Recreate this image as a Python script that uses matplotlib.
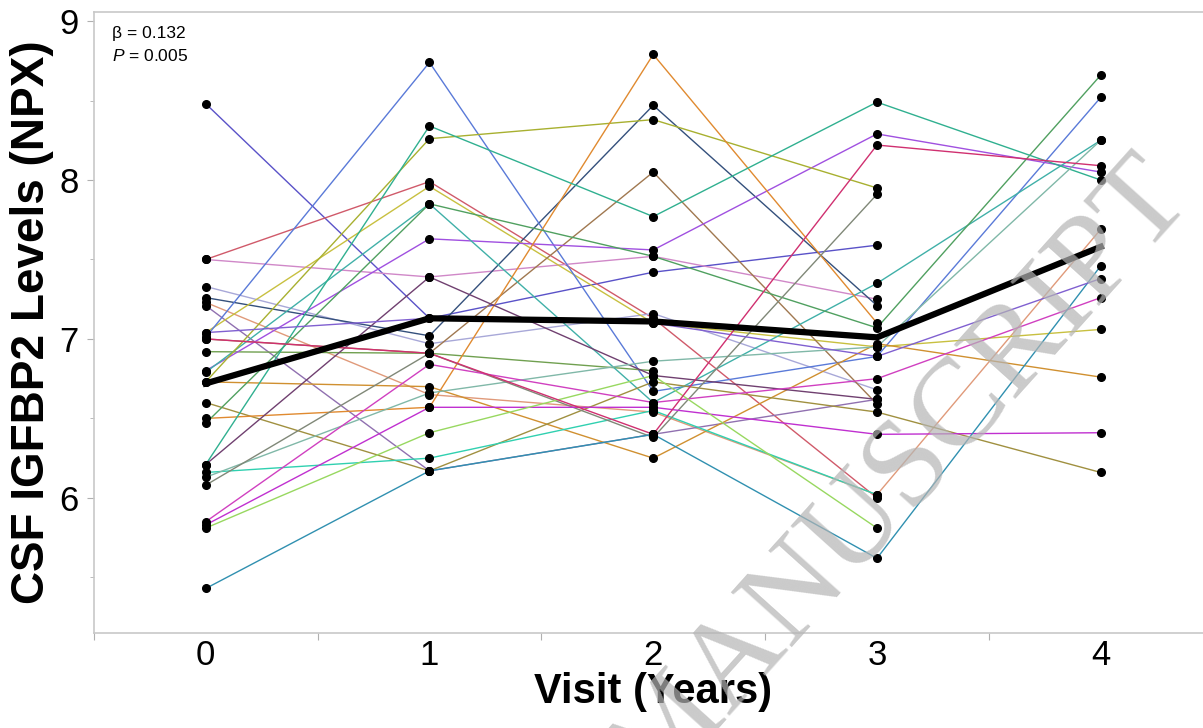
''' spaghetti plot of CSF IGFBP2 levels by visit'''
import matplotlib
matplotlib.use('Agg')
import matplotlib.pyplot as plt
from matplotlib.ticker import FixedLocator, NullFormatter

plt.rcParams['font.family'] = ['Liberation Sans', 'DejaVu Sans']
plt.rcParams['mathtext.fontset'] = 'custom'
plt.rcParams['mathtext.it'] = 'Liberation Sans:italic'
plt.rcParams['mathtext.rm'] = 'Liberation Sans'

visits = [0, 1, 2, 3, 4]
visit_labels = ['0', '1', '2', '3', '4']

# one row per participant, None = no sample at that visit
subjects = [
    [8.48, 7.13, 7.42, 7.59, None],
    [7.50, 7.99, 7.13, 6.00, None],
    [7.50, 7.39, 7.52, 7.25, None],
    [7.33, 6.97, 7.16, 6.68, None],
    [7.26, 7.02, 8.47, 7.21, None],
    [7.23, 6.65, 6.54, 6.02, 7.69],
    [7.21, 6.17, 6.40, 6.62, None],
    [7.04, 7.96, 7.10, 6.95, 7.06],
    [7.01, 8.74, 6.67, 6.89, 8.52],
    [7.00, 6.91, 8.05, 6.59, None],
    [6.92, 6.91, 6.80, None, None],
    [6.80, 7.63, 7.56, 8.29, 8.05],
    [6.79, 7.85, 6.60, 7.35, 8.25],
    [6.73, 8.26, 8.38, 7.95, None],
    [6.73, 6.70, 6.25, 6.97, 6.76],
    [6.60, 6.17, 6.73, 6.54, 6.16],
    [6.50, 6.57, 8.79, 7.10, None],
    [6.47, 7.85, 7.52, 7.07, 8.66],
    [6.21, 8.34, 7.77, 8.49, 8.00],
    [6.21, 7.39, 6.77, 6.62, None],
    [6.16, 6.25, 6.55, 6.02, None],
    [6.13, 6.66, 6.86, 6.95, 8.25],
    [6.08, 6.91, 6.38, 7.91, None],
    [5.85, 6.84, 6.60, 6.75, 7.26],
    [5.83, 6.57, 6.57, 6.40, 6.41],
    [5.81, 6.41, 6.77, 5.81, None],
    [5.43, 6.17, 6.40, 5.62, 7.46],
    [7.04, 7.13, 7.10, 6.89, 7.38],
    [7.00, 6.91, 6.40, 8.22, 8.09],
]
subject_colors = [
    '#5a52c8', '#d05a6a', '#d088c8', '#a8a8d8', '#34507c', '#e09a7a',
    '#9070b0', '#c8c040', '#5a7ad8', '#a07850', '#70a050', '#a050e0',
    '#40b0a8', '#a8b030', '#d09030', '#a09040', '#e08a30', '#50a060',
    '#30b090', '#704070', '#30d0b0', '#80b8a8', '#808878', '#d040c0',
    '#c030d0', '#98d860', '#3090b0', '#8060d0', '#d03070',
]

mean_levels = [6.72, 7.13, 7.11, 7.01, 7.58]


def main():
    ''' main function'''
    fig = plt.figure(figsize=(12.03, 7.28), dpi=100)
    ax = fig.add_axes([0.078, 0.1305, 0.93, 0.853])

    for vals, col in zip(subjects, subject_colors):
        xs = [v for v, y in zip(visits, vals) if y is not None]
        ys = [y for y in vals if y is not None]
        ax.plot(xs, ys, color=col, linewidth=1.0, zorder=2)
        ax.plot(xs, ys, linestyle='none', marker='o', markersize=5.5,
                color='black', zorder=3)

    ax.plot(visits, mean_levels, color='black', linewidth=4.5,
            solid_joinstyle='miter', zorder=4)

    ax.set_xlim(-0.5, 4.5)
    ax.set_ylim(5.15, 9.057)

    ax.xaxis.set_major_locator(FixedLocator([-0.5, 0.5, 1.5, 2.5, 3.5, 4.5]))
    ax.xaxis.set_major_formatter(NullFormatter())
    ax.xaxis.set_minor_locator(FixedLocator(visits))
    ax.set_xticklabels(visit_labels, minor=True)
    ax.tick_params(axis='x', which='major', length=5, color='#b0b0b0')
    ax.tick_params(axis='x', which='minor', length=0, pad=4, labelsize=25)

    ax.yaxis.set_major_locator(FixedLocator([6, 7, 8, 9]))
    ax.yaxis.set_minor_locator(FixedLocator([5.5, 6.5, 7.5, 8.5]))
    ax.tick_params(axis='y', which='major', length=5, color='#b0b0b0',
                   labelsize=25, pad=6)
    ax.tick_params(axis='y', which='minor', length=3, color='#b0b0b0')

    for side in ['top', 'left', 'bottom']:
        ax.spines[side].set_color('#c8c8c8')
        ax.spines[side].set_linewidth(1.2)
    ax.spines['right'].set_visible(False)

    ax.set_xlabel('Visit (Years)', fontsize=30, fontweight='bold', labelpad=0)
    ax.set_ylabel('CSF IGFBP2 Levels (NPX)', fontsize=33, fontweight='bold',
                  labelpad=4)

    ax.text(0.016, 0.978, '\u03b2 = 0.132', transform=ax.transAxes,
            fontsize=12.5, va='top', ha='left')
    ax.text(0.016, 0.942, '$P$ = 0.005', transform=ax.transAxes,
            fontsize=12.5, va='top', ha='left')

    fig.text(0.562, -0.005, 'ACCEPTED MANUSCRIPT', fontsize=90,
             family='Liberation Serif', color='#b4b4b4', alpha=0.7,
             rotation=48, rotation_mode='anchor', ha='center', va='center',
             zorder=5)

    fig.savefig('out.png', dpi=100)


if __name__ == '__main__':
    main()
